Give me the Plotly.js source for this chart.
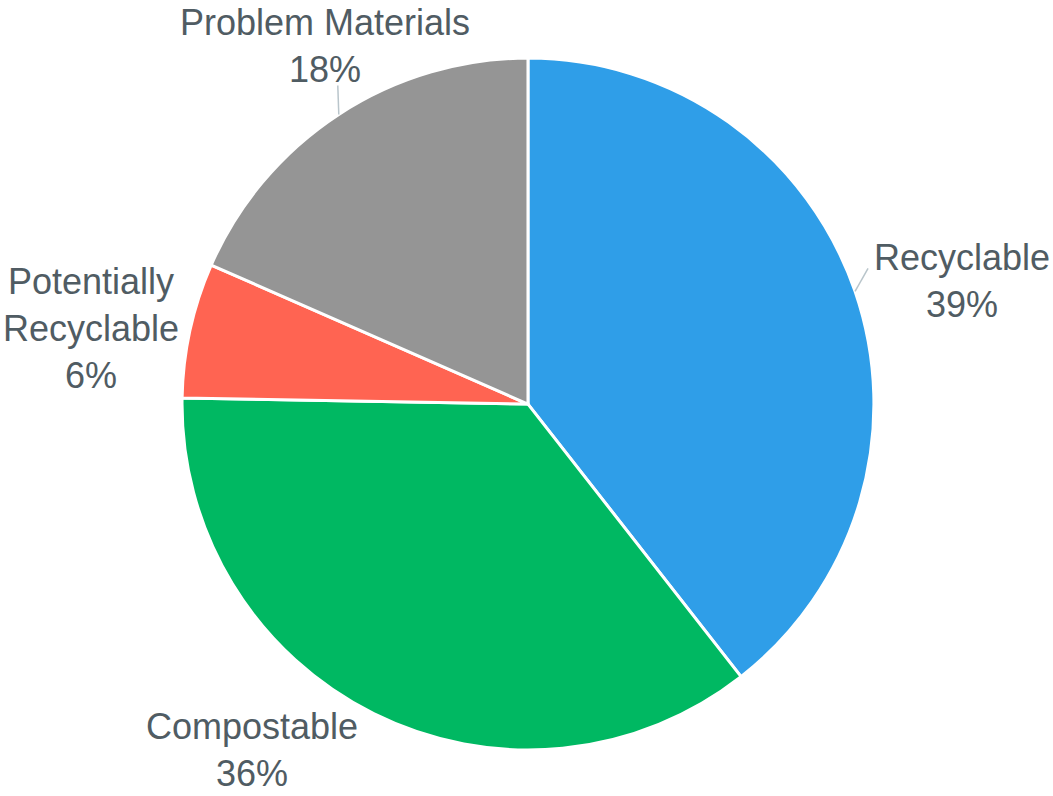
<!DOCTYPE html>
<html>
<head>
<meta charset="utf-8">
<script src="https://cdn.plot.ly/plotly-3.0.1.min.js"></script>
<style>html,body{margin:0;padding:0;background:#fff;}#chart{width:1053px;height:796px;}</style>
</head>
<body>
<div id="chart"></div>
<script>
const categories = ["Recyclable", "Compostable", "Potentially<br>Recyclable", "Problem Materials"];
const values = [39.4, 35.8, 6.3, 18.4];
const colors = ["#2F9EE8", "#00B862", "#FF6452", "#959595"];

// label placement (pixel offsets from the slice's mid-angle point on the rim)
const labelOffsets = [[107, -10], [-122, 36], [-99, -2], [-14, -68]];
const leaderEnds = [[13, -23], null, null, [-1, -29]];

const W = 1053, H = 796;
const dom = {x: [0.1728, 0.830], y: [0.0578, 0.927]};
const FONT = "Liberation Sans, Arial, Helvetica, sans-serif";
const TXT = "#505C63";

const trace = {
  type: "pie",
  labels: categories,
  values: values,
  sort: false,
  direction: "clockwise",
  rotation: 0,
  marker: {colors: colors, line: {color: "#ffffff", width: 3}},
  textinfo: "none",
  hoverinfo: "none",
  automargin: false,
  domain: dom
};

const total = values.reduce((a, b) => a + b, 0);
const cxp = (dom.x[0] + dom.x[1]) / 2, cyp = (dom.y[0] + dom.y[1]) / 2;
const Rpx = Math.min((dom.x[1] - dom.x[0]) * W, (dom.y[1] - dom.y[0]) * H) / 2;

const annotations = [], shapes = [];
let cum = 0;
values.forEach((v, i) => {
  const a = 2 * Math.PI * (cum + v / 2) / total;
  cum += v;
  const px = cxp + Rpx * Math.sin(a) / W;
  const py = cyp + Rpx * Math.cos(a) / H;
  const pct = Math.round(100 * v / total) + "%";
  const [ox, oy] = labelOffsets[i];
  annotations.push({
    xref: "paper", yref: "paper",
    x: px + ox / W, y: py - oy / H,
    xanchor: "center", yanchor: "middle", align: "center",
    text: categories[i] + "<br>" + pct,
    showarrow: false,
    font: {family: FONT, size: 36, color: TXT}
  });
  if (leaderEnds[i]) {
    const [lx, ly] = leaderEnds[i];
    shapes.push({
      type: "line", xref: "paper", yref: "paper",
      x0: px, y0: py, x1: px + lx / W, y1: py - ly / H,
      line: {color: "#B9C5CB", width: 1.5}
    });
  }
});

const layout = {
  width: W, height: H,
  margin: {l: 0, r: 0, t: 0, b: 0},
  showlegend: false,
  paper_bgcolor: "#ffffff",
  font: {family: FONT, size: 36, color: TXT},
  annotations: annotations,
  shapes: shapes
};

Plotly.newPlot("chart", [trace], layout, {displayModeBar: false, staticPlot: true});
</script>
</body>
</html>
